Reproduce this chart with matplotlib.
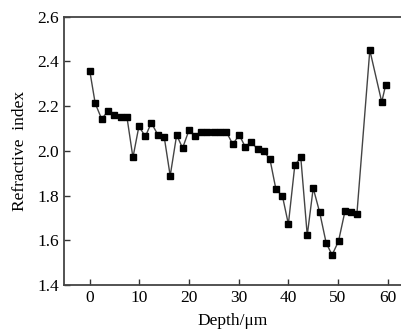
import matplotlib.pyplot as plt

depth = [0.0, 1.1, 2.4, 3.7, 4.9, 6.2, 7.5, 8.7, 9.9, 11.2, 12.4, 13.7, 15.0,
         16.2, 17.5, 18.7, 20.0, 21.2, 22.5, 23.7, 25.0, 26.2, 27.5, 28.8,
         30.1, 31.3, 32.5, 33.8, 35.0, 36.3, 37.5, 38.8, 40.0, 41.3, 42.5,
         43.8, 45.0, 46.3, 47.6, 48.8, 50.1, 51.4, 52.6, 53.8, 56.4, 58.8, 59.6]
index = [2.358, 2.212, 2.142, 2.178, 2.158, 2.149, 2.149, 1.970, 2.109, 2.064,
         2.125, 2.072, 2.061, 1.888, 2.070, 2.012, 2.093, 2.066, 2.084, 2.084,
         2.082, 2.082, 2.085, 2.029, 2.071, 2.018, 2.038, 2.008, 2.000, 1.961,
         1.827, 1.798, 1.672, 1.936, 1.970, 1.622, 1.833, 1.725, 1.589, 1.534,
         1.596, 1.730, 1.727, 1.718, 2.450, 2.218, 2.295]

plt.rcParams['font.family'] = ['Liberation Serif', 'DejaVu Serif']

fig = plt.figure(figsize=(4.02, 3.31), dpi=100)
ax = fig.add_axes([0.159, 0.139, 0.84, 0.811])

ax.plot(depth, index, color='#444444', linewidth=1.0, marker='s',
        markersize=4.3, markerfacecolor='black', markeredgecolor='black')

ax.set_xlim(-5.2, 62.8)
ax.set_ylim(1.4, 2.6)
ax.set_xticks([0, 10, 20, 30, 40, 50, 60])
ax.set_yticks([1.4, 1.6, 1.8, 2.0, 2.2, 2.4, 2.6])
ax.set_yticklabels(['1.4', '1.6', '1.8', '2.0', '2.2', '2.4', '2.6'])
ax.tick_params(direction='in', length=4, width=1, labelsize=12.5, color='#333333')
for side in ['left', 'top', 'bottom']:
    ax.spines[side].set_linewidth(1.3)
    ax.spines[side].set_color('#444444')
ax.spines['right'].set_visible(False)

ax.set_xlabel('Depth/μm', fontsize=12.5, labelpad=5)
ax.set_ylabel('Refractive  index', fontsize=12.5, labelpad=7)

fig.savefig('out.png', dpi=100)
